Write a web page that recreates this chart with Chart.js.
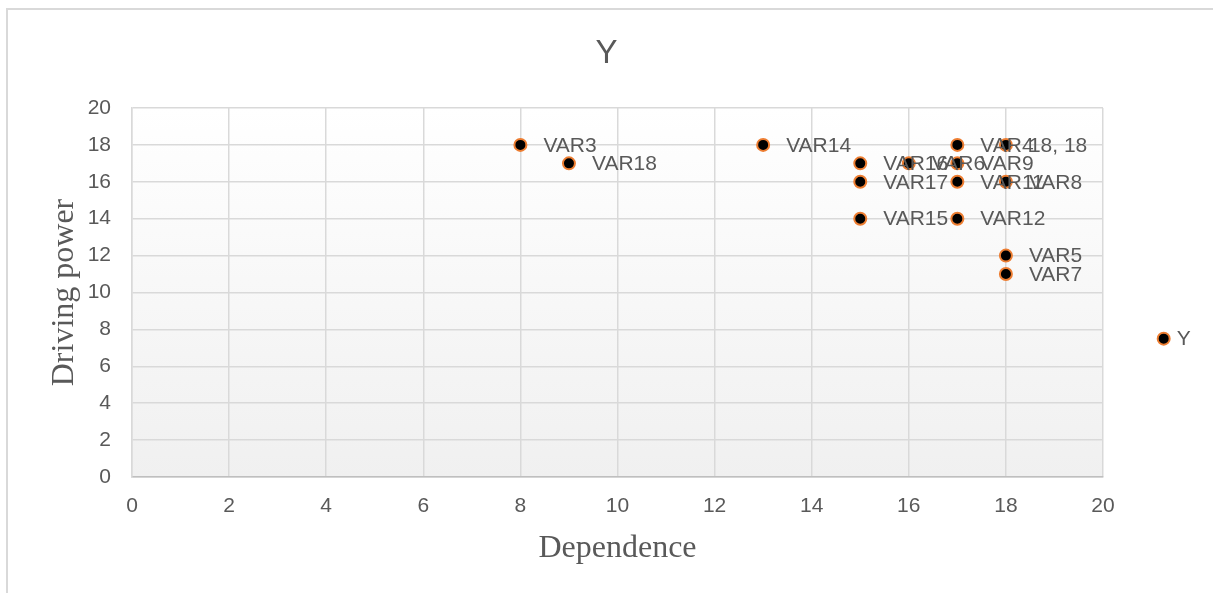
<!DOCTYPE html>
<html>
<head>
<meta charset="utf-8">
<script src="https://cdn.jsdelivr.net/npm/chart.js@4/dist/chart.umd.min.js"></script>
<style>
  html, body { margin: 0; padding: 0; background: #ffffff; overflow: hidden; }
  #frame { position: absolute; left: 6px; top: 8px; width: 1400px; height: 800px; border: 2px solid #d9d9d9; box-sizing: border-box; }
  #c { position: absolute; left: 0; top: 0; }
</style>
</head>
<body>
<div id="frame"></div>
<canvas id="c" width="1213" height="593"></canvas>
<script>
// ---- data ----
const pointLabels = ["VAR3", "VAR18", "VAR14", "VAR16", "VAR6", "VAR9", "VAR4", "18, 18", "VAR17", "VAR11", "VAR8", "VAR15", "VAR12", "VAR5", "VAR7", "Y"];
const dependence  = [8, 9, 13, 15, 16, 17, 17, 18, 15, 17, 18, 15, 17, 18, 18, 21.25];
const drivingPower = [18, 17, 18, 17, 17, 17, 18, 18, 16, 16, 16, 14, 14, 12, 11, 7.5];
const chartTitle = "Y";
const xTitle = "Dependence";
const yTitle = "Driving power";

const points = dependence.map((x, i) => ({ x: x, y: drivingPower[i] }));
const textColor = "#595959";
const sansFont = "'Liberation Sans', Arial, sans-serif";
const serifFont = "'Liberation Serif', 'Times New Roman', serif";

const bgPlugin = {
  id: 'plotBg',
  beforeDraw(chart) {
    const a = chart.chartArea, ctx = chart.ctx;
    const g = ctx.createLinearGradient(0, a.top, 0, a.bottom);
    g.addColorStop(0, '#ffffff');
    g.addColorStop(1, '#f0f0f0');
    ctx.save();
    ctx.fillStyle = g;
    ctx.fillRect(a.left, a.top, a.right - a.left, a.bottom - a.top);
    ctx.restore();
  }
};

const labelPlugin = {
  id: 'pointLabels',
  afterDatasetsDraw(chart) {
    const ctx = chart.ctx;
    const meta = chart.getDatasetMeta(0);
    const a = chart.chartArea;
    const full = { left: 0, top: 0, right: chart.width, bottom: chart.height };
    // points lying outside the plot area (Chart.js skips them by default)
    meta.data.forEach((el) => {
      if (el.x > a.right || el.x < a.left || el.y < a.top || el.y > a.bottom) {
        el.draw(ctx, full);
      }
    });
    ctx.save();
    ctx.font = "21px " + sansFont;
    ctx.fillStyle = textColor;
    ctx.textBaseline = 'middle';
    ctx.textAlign = 'left';
    meta.data.forEach((el, i) => {
      const outside = el.x > a.right;
      ctx.fillText(pointLabels[i], el.x + (outside ? 13 : 23), el.y + 1);
    });
    ctx.restore();
  }
};

new Chart(document.getElementById('c'), {
  type: 'scatter',
  data: {
    datasets: [{
      label: chartTitle,
      data: points,
      clip: false,
      pointRadius: 6,
      pointHoverRadius: 6,
      pointBackgroundColor: '#000000',
      pointBorderColor: '#ED7D31',
      pointBorderWidth: 2
    }]
  },
  options: {
    responsive: false,
    animation: false,
    layout: { padding: 0 },
    plugins: {
      legend: { display: false },
      tooltip: { enabled: false },
      title: {
        display: true,
        text: chartTitle,
        color: textColor,
        font: { family: sansFont, size: 33, weight: 'normal', lineHeight: 1.2 },
        padding: { top: 34, bottom: 34.4 }
      }
    },
    scales: {
      x: {
        type: 'linear',
        min: 0, max: 20,
        ticks: { stepSize: 2, color: textColor, font: { family: sansFont, size: 21 }, padding: 17 },
        grid: { color: '#d9d9d9', lineWidth: 1.5, drawTicks: false },
        border: { color: '#bfbfbf', width: 1.5 },
        title: {
          display: true, text: xTitle, color: textColor,
          font: { family: serifFont, size: 32, lineHeight: 1.2 },
          padding: { top: 0, bottom: 25 }
        },
        afterFit(scale) { scale.height = 116; }
      },
      y: {
        type: 'linear',
        min: 0, max: 20,
        ticks: { stepSize: 2, color: textColor, font: { family: sansFont, size: 21 }, padding: 21 },
        grid: { color: '#d9d9d9', lineWidth: 1.5, drawTicks: false },
        border: { color: '#d9d9d9', width: 1.5 },
        title: {
          display: true, text: yTitle, color: textColor,
          font: { family: serifFont, size: 32, lineHeight: 1.2 },
          padding: { top: 45, bottom: 0 }
        },
        afterFit(scale) { scale.width = 132; }
      },
      yRightSpace: {
        type: 'linear',
        position: 'right',
        display: true,
        min: 0, max: 20,
        ticks: { display: false },
        grid: { display: false, drawTicks: false },
        border: { display: false },
        afterFit(scale) { scale.width = 110; }
      }
    }
  },
  plugins: [bgPlugin, labelPlugin]
});
</script>
</body>
</html>
